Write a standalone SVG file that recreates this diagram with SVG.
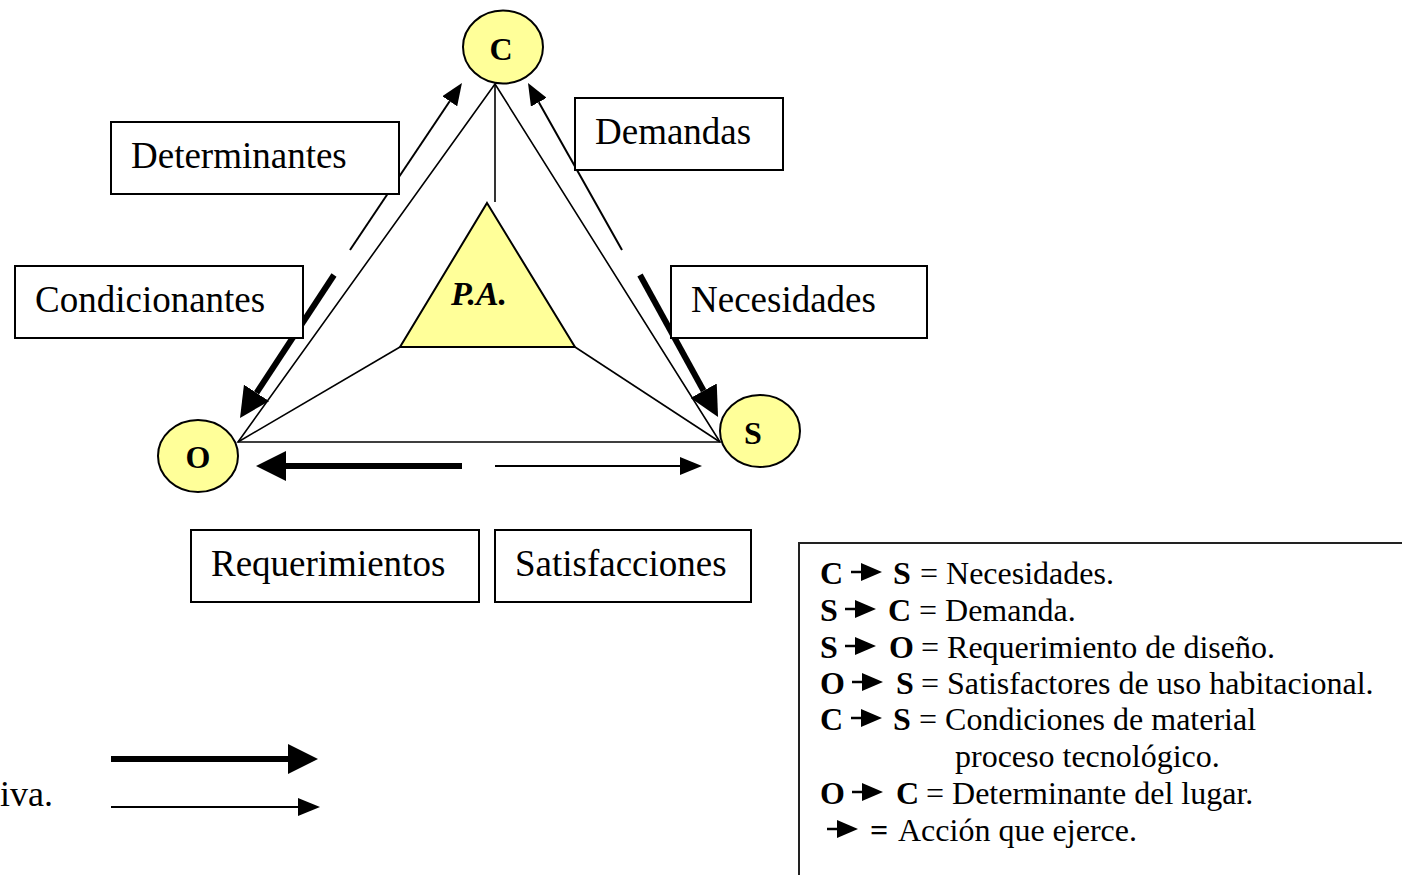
<svg xmlns="http://www.w3.org/2000/svg" xmlns:xlink="http://www.w3.org/1999/xlink" width="1402" height="875" viewBox="0 0 1402 875">
<style>
.ln{stroke:#000;stroke-width:1.6;fill:none}
.thin{stroke:#000;stroke-width:2;fill:none}
.thick{stroke:#000;stroke-width:6;fill:none}
.box{fill:#fff;stroke:#000;stroke-width:2}
.nd{fill:#FFFF99;stroke:#000;stroke-width:2}
.bt{font-family:"Liberation Serif","Times New Roman",serif;font-size:37px;fill:#000}
.nt{font-family:"Liberation Serif","Times New Roman",serif;font-size:32px;font-weight:bold;fill:#000;text-anchor:middle}
.lg{font-family:"Liberation Serif","Times New Roman",serif;font-size:32px;fill:#000}
.iva{font-family:"Liberation Serif","Times New Roman",serif;font-size:36px;fill:#000}
.b{font-weight:bold}
</style>
<defs>
<marker id="ah" viewBox="0 -15 30 30" markerWidth="30" markerHeight="30" refX="0" refY="0" orient="auto" markerUnits="userSpaceOnUse"><path d="M0,-15 L30,0 L0,15 z" fill="#000"/></marker>
<marker id="as" viewBox="0 -9 22 18" markerWidth="22" markerHeight="18" refX="0" refY="0" orient="auto" markerUnits="userSpaceOnUse"><path d="M0,-9 L22,0 L0,9 z" fill="#000"/></marker>
<g id="la"><path d="M0,0 H13" stroke="#000" stroke-width="2.5"/><path d="M10,-9 L31,0 L10,9 z" fill="#000"/></g>
</defs>

<g id="connectors">
<path class="ln" d="M495,84 L238,442 L720,442 Z"/>
<path class="ln" d="M495,84 L495,202"/>
<path class="ln" d="M238,442 L400,347"/>
<path class="ln" d="M720,442 L575,347"/>
<line class="thin" x1="350" y1="250" x2="449.7" y2="101.3" marker-end="url(#as)"/>
<line class="thin" x1="622" y1="250" x2="538.8" y2="102.2" marker-end="url(#as)"/>
<line class="thick" x1="334" y1="275" x2="256.5" y2="392.9" marker-end="url(#ah)"/>
<line class="thick" x1="640" y1="275" x2="703.6" y2="390.7" marker-end="url(#ah)"/>
<line class="thick" x1="462" y1="466" x2="286" y2="466" marker-end="url(#ah)"/>
<line class="thin" x1="495" y1="466" x2="680" y2="466" marker-end="url(#as)"/>
</g>

<g id="pa">
<path d="M487,203 L575,347 L400,347 Z" fill="#FFFF99" stroke="#000" stroke-width="2"/>
<text x="451" y="305" font-family="'Liberation Serif','Times New Roman',serif" font-size="34" font-weight="bold" font-style="italic">P.A.</text>
</g>

<g id="box-determinantes"><rect class="box" x="111" y="122" width="288" height="72"/><text class="bt" x="131" y="168">Determinantes</text></g>
<g id="box-demandas"><rect class="box" x="575" y="98" width="208" height="72"/><text class="bt" x="595" y="144">Demandas</text></g>
<g id="box-condicionantes"><rect class="box" x="15" y="266" width="288" height="72"/><text class="bt" x="35" y="312">Condicionantes</text></g>
<g id="box-necesidades"><rect class="box" x="671" y="266" width="256" height="72"/><text class="bt" x="691" y="312">Necesidades</text></g>
<g id="box-requerimientos"><rect class="box" x="191" y="530" width="288" height="72"/><text class="bt" x="211" y="576">Requerimientos</text></g>
<g id="box-satisfacciones"><rect class="box" x="495" y="530" width="256" height="72"/><text class="bt" x="515" y="576">Satisfacciones</text></g>

<g id="node-c"><ellipse class="nd" cx="503" cy="47" rx="40" ry="36.5"/><text class="nt" x="501" y="60">C</text></g>
<g id="node-o"><ellipse class="nd" cx="198" cy="456" rx="40" ry="36"/><text class="nt" x="198" y="468">O</text></g>
<g id="node-s"><ellipse class="nd" cx="760" cy="431" rx="40" ry="36"/><text class="nt" x="753" y="444">S</text></g>

<g id="key-left">
<text class="iva" x="0" y="806">iva.</text>
<line x1="111" y1="759" x2="288" y2="759" stroke="#000" stroke-width="6" marker-end="url(#ah)"/>
<line x1="111" y1="807" x2="298" y2="807" stroke="#000" stroke-width="2" marker-end="url(#as)"/>
</g>

<g id="legend">
<path d="M799,875 V543 H1402" fill="none" stroke="#222" stroke-width="2"/>
<text class="lg b" x="820" y="584">C</text><use xlink:href="#la" x="851" y="572"/><text class="lg b" x="893" y="584">S</text><text class="lg" x="920" y="584">= Necesidades.</text>
<text class="lg b" x="820" y="621">S</text><use xlink:href="#la" x="845" y="609"/><text class="lg b" x="888" y="621">C</text><text class="lg" x="919" y="621">= Demanda.</text>
<text class="lg b" x="820" y="658">S</text><use xlink:href="#la" x="845" y="646"/><text class="lg b" x="889" y="658">O</text><text class="lg" x="921" y="658">= Requerimiento de diseño.</text>
<text class="lg b" x="820" y="694">O</text><use xlink:href="#la" x="852" y="682"/><text class="lg b" x="896" y="694">S</text><text class="lg" x="921" y="694">= Satisfactores de uso habitacional.</text>
<text class="lg b" x="820" y="730">C</text><use xlink:href="#la" x="851" y="718"/><text class="lg b" x="893" y="730">S</text><text class="lg" x="919" y="730">= Condiciones de material</text>
<text class="lg" x="955" y="767">proceso tecnológico.</text>
<text class="lg b" x="820" y="804">O</text><use xlink:href="#la" x="852" y="792"/><text class="lg b" x="896" y="804">C</text><text class="lg" x="926" y="804">= Determinante del lugar.</text>
<use xlink:href="#la" x="827" y="829"/><text class="lg b" x="870" y="841">=</text><text class="lg" x="898" y="841">Acción que ejerce.</text>
</g>
</svg>
